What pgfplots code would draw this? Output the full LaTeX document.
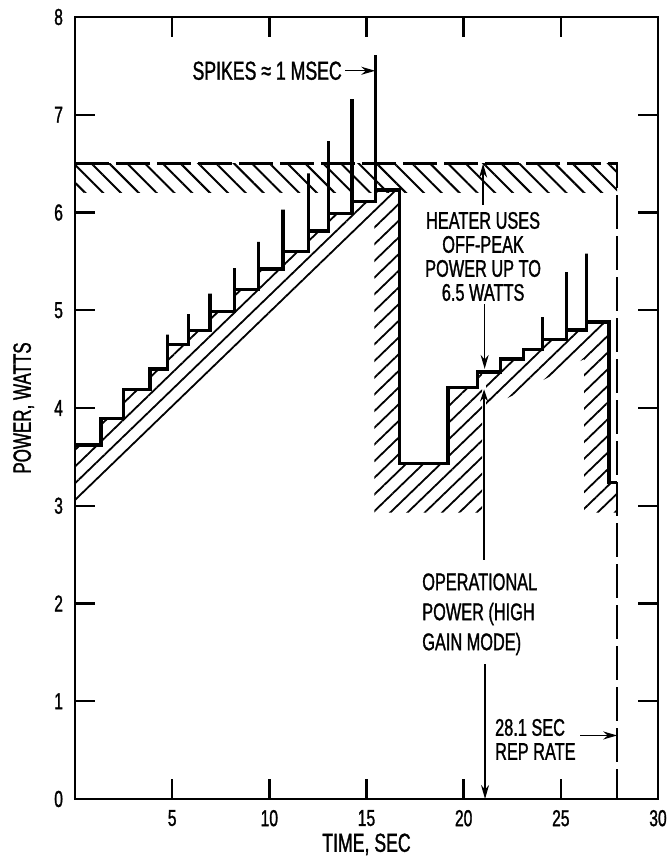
\documentclass[border=0pt]{standalone}
\usepackage{fontspec}
\setmainfont{Liberation Sans}[FakeStretch=0.68, FakeBold=1.2]
\usepackage{pgfplots}
\pgfplotsset{compat=1.18}
\usetikzlibrary{patterns.meta,arrows.meta}

\begin{document}
\begin{tikzpicture}[font=\fontsize{12}{12}\selectfont]
% frame of the reference page (axis box starts at 0,0)
\path[use as bounding box] (-37.5pt,-28.5pt) rectangle (296pt,399.5pt);
\begin{axis}[
  scale only axis, width=291.5pt, height=391pt,
  xmin=0, xmax=30, ymin=0, ymax=8,
  xtick={5,10,...,30}, ytick={0,1,...,8},
  tick align=inside, major tick length=10pt,
  axis line style={line width=1.3pt},
  tick style={black, line width=1.2pt},
  /pgf/number format/assume math mode=true,
  ticklabel style={font=\fontsize{11.5}{12}\selectfont},
  yticklabel style={xshift=-2.5pt},
  xticklabel style={yshift=-2pt},
  xlabel={TIME, SEC}, ylabel={POWER, WATTS},
  xlabel style={at={(axis description cs:0.5,-0.058)}, anchor=center, font=\fontsize{13}{13}\selectfont},
  ylabel style={at={(axis description cs:-0.088,0.5)}, anchor=center, font=\fontsize{12.5}{13}\selectfont},
  clip=false,
]
% off-peak band 6.2 - 6.5 W
\addplot[draw=none, pattern={Lines[angle=-45,distance=6.3pt,line width=1pt]}]
  coordinates {(0,6.2) (27.9,6.2) (27.9,6.5) (0,6.5)};
% hatched area under the first ramp and around the drop
\addplot[draw=none, pattern={Lines[angle=44,distance=6pt,line width=0.9pt]}]
  coordinates {(0,3.62) (1.34,3.62) (1.34,3.89) (2.5,3.89) (2.5,4.19) (3.85,4.19)
    (3.85,4.40) (4.75,4.40) (4.75,4.65) (5.85,4.65) (5.85,4.79) (6.95,4.79)
    (6.95,4.99) (8.2,4.99) (8.2,5.21) (9.43,5.21) (9.43,5.42) (10.7,5.42)
    (10.7,5.60) (12.0,5.60) (12.0,5.81) (13.05,5.81) (13.05,5.99) (14.25,5.99)
    (14.25,6.11) (15.45,6.11) (15.45,6.23) (16.7,6.23) (16.7,3.43) (19.2,3.43)
    (19.2,4.21) (20.7,4.21) (20.7,4.37) (20.95,4.37) (20.95,2.93) (15.4,2.93)
    (15.4,5.98) (0,3.02)};
% hatched area under the second ramp
\addplot[draw=none, pattern={Lines[angle=44,distance=6pt,line width=0.9pt]}]
  coordinates {(21.15,4.37) (21.9,4.37) (21.9,4.50) (23.07,4.50) (23.07,4.60)
    (24.05,4.60) (24.05,4.70) (25.3,4.70) (25.3,4.80) (26.31,4.80) (26.31,4.88)
    (27.47,4.88) (27.47,3.24) (27.9,3.24) (27.9,2.93) (26.2,2.93) (26.2,4.50)
    (21.15,3.99)};
% dashed limit: 6.5 W and 28.1 s repetition
\addplot[line width=1.2pt, dash pattern=on 17pt off 3.5pt]
  coordinates {(0,6.5) (27.9,6.5) (27.9,0)};
% power profile with 1 ms spikes
\addplot[line width=1.7pt, line join=miter]
  coordinates {(0,3.62) (1.34,3.62) (1.34,3.89) (2.5,3.89) (2.5,4.19) (3.85,4.19)
    (3.85,4.40) (4.75,4.40) (4.75,4.75) (4.75,4.65) (5.85,4.65) (5.85,4.96)
    (5.85,4.79) (6.95,4.79) (6.95,5.17) (6.95,4.99) (8.2,4.99) (8.2,5.43)
    (8.2,5.21) (9.43,5.21) (9.43,5.70) (9.43,5.42) (10.7,5.42) (10.7,6.03)
    (10.7,5.60) (12.0,5.60) (12.0,6.40) (12.0,5.81) (13.05,5.81) (13.05,6.73)
    (13.05,5.99) (14.25,5.99) (14.25,7.16) (14.25,6.11) (15.45,6.11) (15.45,7.61)
    (15.45,6.23) (16.7,6.23) (16.7,3.43) (19.2,3.43) (19.2,4.21) (20.7,4.21)
    (20.7,4.37) (21.9,4.37) (21.9,4.50) (23.07,4.50) (23.07,4.60) (24.05,4.60)
    (24.05,4.93) (24.05,4.70) (25.3,4.70) (25.3,5.39) (25.3,4.80) (26.31,4.80)
    (26.31,5.58) (26.31,4.88) (27.47,4.88) (27.47,3.24) (27.9,3.24)};

% annotations
\node[anchor=east, inner sep=1pt, font=\fontsize{13}{13}\selectfont] at (axis cs:13.85,7.45) {SPIKES ≈ 1 MSEC};
\draw[line width=0.7pt, -{Stealth[length=7pt,width=4pt]}] (axis cs:13.9,7.45) -- (axis cs:15.45,7.45);
\node[align=center, inner sep=0pt] at (axis cs:21.0,5.55)
  {HEATER USES\\OFF-PEAK\\POWER UP TO\\6.5 WATTS};
\draw[line width=0.7pt, -{Stealth[length=7pt,width=4pt]}] (axis cs:21.0,6.08) -- (axis cs:21.0,6.5);
\draw[line width=0.7pt, -{Stealth[length=7pt,width=4pt]}] (axis cs:21.08,5.06) -- (axis cs:21.08,4.40);
\draw[line width=0.7pt, -{Stealth[length=6pt,width=4pt]}] (axis cs:21.05,2.45) -- (axis cs:21.05,4.19);
\node[anchor=west, align=left, inner sep=0pt, font=\fontsize{12}{15}\selectfont] at (axis cs:17.85,1.89)
  {OPERATIONAL\\POWER (HIGH\\GAIN MODE)};
\draw[line width=0.7pt, -{Stealth[length=7pt,width=4pt]}] (axis cs:21.1,1.38) -- (axis cs:21.1,0);
\node[anchor=west, align=left, inner sep=0pt] at (axis cs:21.6,0.61) {28.1 SEC\\REP RATE};
\draw[line width=0.7pt, -{Stealth[length=7pt,width=4pt]}] (axis cs:26.0,0.65) -- (axis cs:27.9,0.65);
\end{axis}
\end{tikzpicture}
\end{document}
